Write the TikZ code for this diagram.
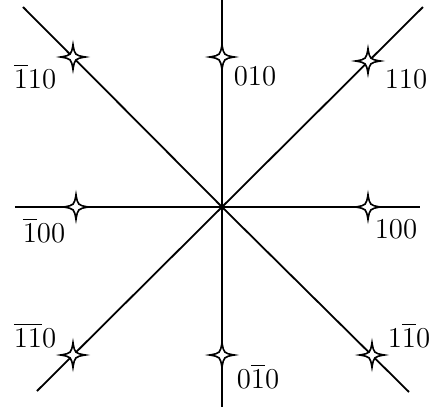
\documentclass[tikz,border=0pt]{standalone}
\usepackage{amsmath}
\usetikzlibrary{positioning}

\tikzset{
  sparkle/.pic={
    \filldraw[fill=white, line width=0.8pt, line join=miter]
      (12.5,0) .. controls (1.8,1.8) .. (0,12.5)
      .. controls (-1.8,1.8) .. (-12.5,0)
      .. controls (-1.8,-1.8) .. (0,-12.5)
      .. controls (1.8,-1.8) .. cycle;
  },
  idx/.style={anchor=base, inner sep=0pt}
}

\begin{document}
\begin{tikzpicture}[x=0.5pt, y=0.5pt, line width=0.9pt,
                    font=\fontsize{13.5}{16}\selectfont]
\useasboundingbox (-222,-207) rectangle (213,207);

% ---- Lines through the origin ------------------------------------------
\coordinate (o)  at (0,0);
\coordinate (w)  at (-207,0);   \coordinate (e)  at (198,0);
\coordinate (n)  at (0,207);    \coordinate (s)  at (0,-200);
\coordinate (nw) at (-199,200); \coordinate (se) at (187,-185);
\coordinate (ne) at (201,200);  \coordinate (sw) at (-185,-184);
\draw (w) -- (o) -- (e);
\draw (n) -- (o) -- (s);
\draw (nw) -- (o) -- (se);
\draw (sw) -- (o) -- (ne);

% ---- Stars on the lines ---------------------------------------------------
\foreach \name/\px/\py in {pmn/-149/150, pzn/0/150, ppn/146/146,
                           pmz/-146/0, ppz/146/0,
                           pmm/-149/-148, pzm/0/-148, ppm/150/-148}{
  \coordinate (\name) at (\px,\py);
  \pic at (\name) {sparkle};
}

% ---- Indices --------------------------------------------------------------
\node[idx] (lmn) at (-187,119) {$\overline{1}10$};
\node[idx] (lzn) at (33,122)   {$010$};
\node[idx] (lpn) at (184,119)  {$110$};
\node[idx] (lmz) at (-178,-35) {$\overline{1}00$};
\node[idx] (lpz) at (174,-31)  {$100$};
\node[idx] (lmm) at (-187,-140) {$\overline{1}\overline{1}0$};
\node[idx] (lzm) at (36,-181)  {$0\overline{1}0$};
\node[idx] (lpm) at (187,-140) {$1\overline{1}0$};

\end{tikzpicture}
\end{document}
